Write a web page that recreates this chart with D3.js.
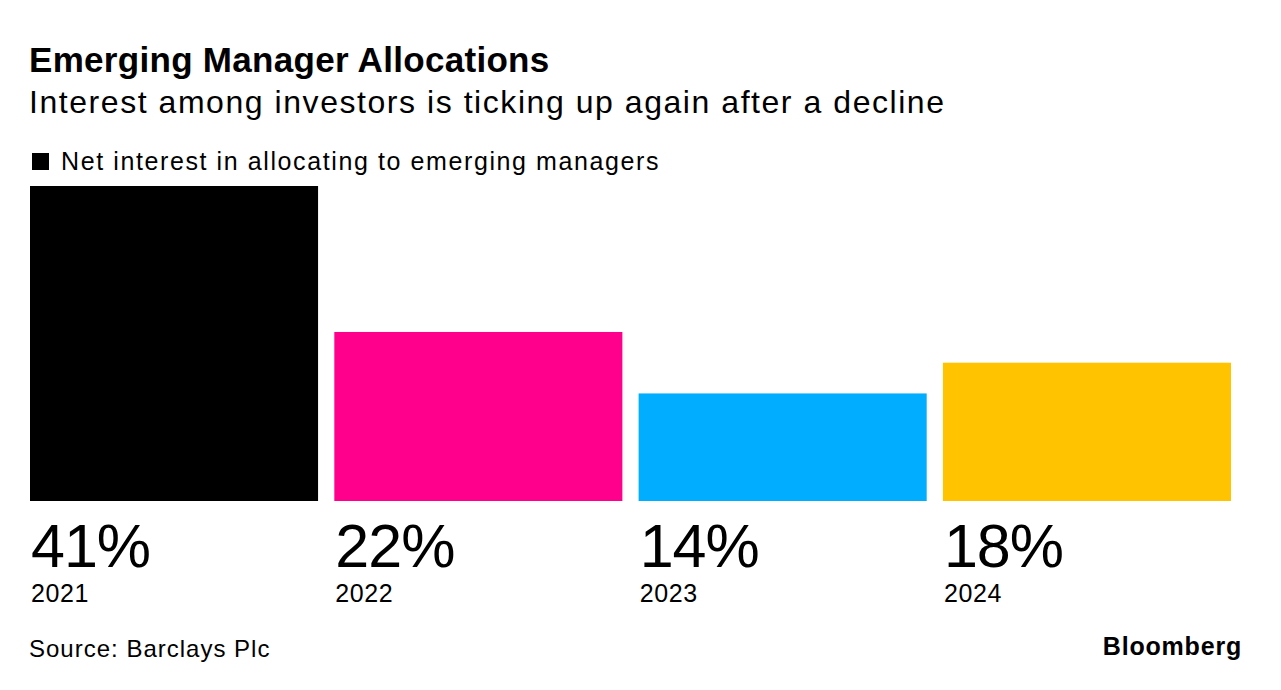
<!DOCTYPE html>
<html>
<head>
<meta charset="utf-8">
<script src="https://cdn.jsdelivr.net/npm/d3@7"></script>
<style>
  body { margin: 0; background: #fff; }
  svg { display: block; font-family: "Liberation Sans", Arial, sans-serif; }
</style>
</head>
<body>
<svg id="chart" width="1281" height="690"></svg>
<script>
// chart data
var years = ["2021", "2022", "2023", "2024"];
var values = [41, 22, 14, 18];
var barColors = ["#000000", "#ff008c", "#00adff", "#ffc300"];

var svg = d3.select("#chart");

// title block
svg.append("text")
  .attr("x", 29).attr("y", 72)
  .attr("font-size", 35).attr("font-weight", "bold")
  .attr("letter-spacing", 0.3)
  .text("Emerging Manager Allocations");

svg.append("text")
  .attr("x", 29).attr("y", 112.5)
  .attr("font-size", 32)
  .attr("letter-spacing", 1.55)
  .text("Interest among investors is ticking up again after a decline");

// legend
svg.append("rect")
  .attr("x", 32).attr("y", 153).attr("width", 17).attr("height", 17)
  .attr("fill", "#000");
svg.append("text")
  .attr("x", 61).attr("y", 170)
  .attr("font-size", 25)
  .attr("letter-spacing", 1.6)
  .text("Net interest in allocating to emerging managers");

// scales
var x = d3.scaleBand()
  .domain(years)
  .range([30, 1231])
  .paddingInner(0.0534)
  .paddingOuter(0);

var y = d3.scaleLinear()
  .domain([0, d3.max(values)])
  .range([501, 186]);

var data = years.map(function(d, i) {
  return { year: d, value: values[i], color: barColors[i] };
});

var bar = svg.selectAll("g.bar")
  .data(data)
  .enter()
  .append("g")
  .attr("class", "bar");

bar.append("rect")
  .attr("x", function(d) { return x(d.year); })
  .attr("y", function(d) { return y(d.value); })
  .attr("width", x.bandwidth())
  .attr("height", function(d) { return y(0) - y(d.value); })
  .attr("fill", function(d) { return d.color; });

bar.append("text")
  .attr("x", function(d) { return x(d.year) + 1; })
  .attr("y", 567)
  .attr("font-size", 61)
  .attr("letter-spacing", -1)
  .text(function(d) { return d.value + "%"; });

bar.append("text")
  .attr("x", function(d) { return x(d.year) + 1; })
  .attr("y", 601.5)
  .attr("font-size", 25)
  .attr("letter-spacing", 0.6)
  .text(function(d) { return d.year; });

// footer
svg.append("text")
  .attr("x", 29).attr("y", 657)
  .attr("font-size", 24)
  .attr("letter-spacing", 1)
  .text("Source: Barclays Plc");

svg.append("text")
  .attr("x", 1242).attr("y", 655)
  .attr("text-anchor", "end")
  .attr("font-size", 25).attr("font-weight", "bold")
  .attr("letter-spacing", 0.8)
  .text("Bloomberg");
</script>
</body>
</html>
